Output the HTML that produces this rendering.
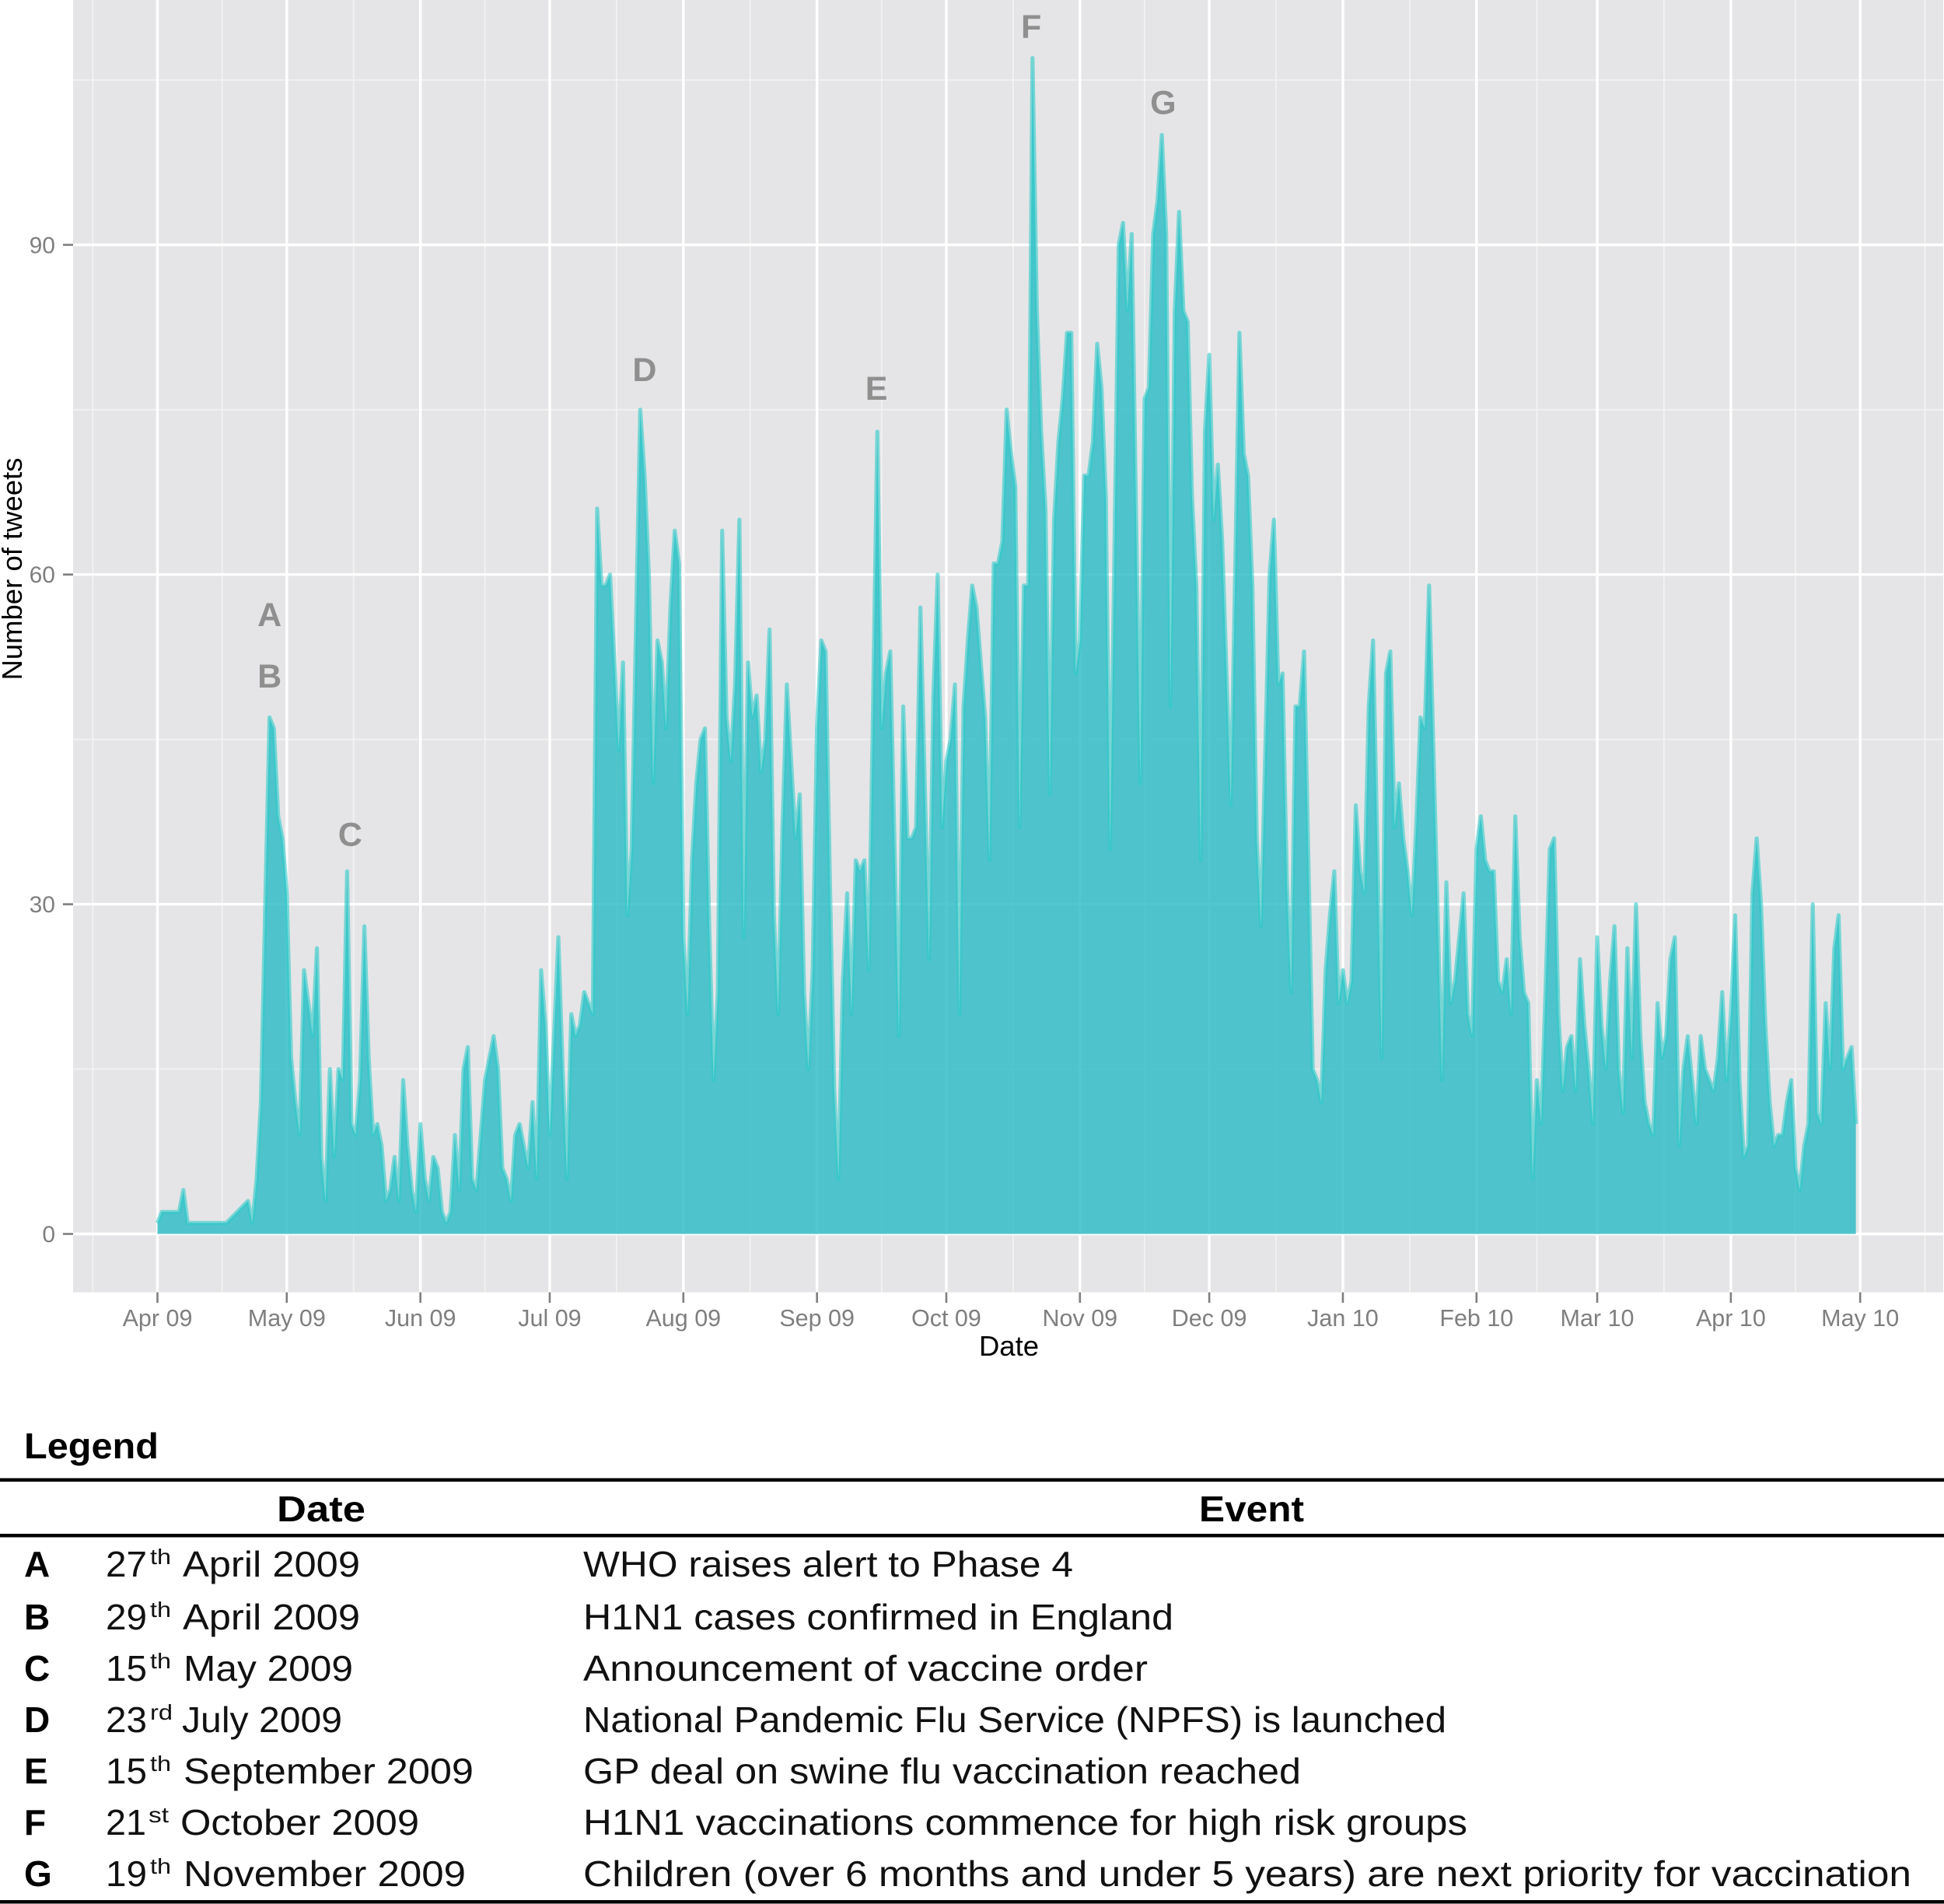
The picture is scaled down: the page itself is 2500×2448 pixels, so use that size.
<!DOCTYPE html>
<html lang="en">
<head>
<meta charset="utf-8">
<title>Number of tweets per day with event legend</title>
<style>
html,body{margin:0;padding:0;background:#fff;}
svg{display:block;}
text{font-family:"Liberation Sans",Arial,sans-serif;}
.rowtext{font-size:46px;fill:#111;}
.rowsup{font-size:28px;fill:#111;}
.rowbold{font-size:46px;font-weight:bold;fill:#000;}
</style>
</head>
<body>
<svg id="chart" xmlns="http://www.w3.org/2000/svg" width="2500" height="2448" viewBox="0 0 2500 2448">
  <rect x="94" y="0" width="2405" height="1661.5" fill="#e5e5e7"/>
  <g id="grid"></g>
  <g id="marks"></g>
  <g id="axes"></g>
  <g id="notes"></g>
  <text x="1297.5" y="1743" font-size="36.5" text-anchor="middle" fill="#000">Date</text>
  <text transform="translate(28,731.5) rotate(-90)" font-size="36.5" text-anchor="middle" fill="#000">Number of tweets</text>

  <g>
    <text class="rowbold" x="31" y="1875" textLength="173" lengthAdjust="spacingAndGlyphs">Legend</text>
    <rect x="0" y="1900.5" width="2500" height="4.5" fill="#000"/>
    <text class="rowbold" x="356" y="1956" textLength="114" lengthAdjust="spacingAndGlyphs">Date</text>
    <text class="rowbold" x="1542" y="1956" textLength="135" lengthAdjust="spacingAndGlyphs">Event</text>
    <rect x="0" y="1972" width="2500" height="4.5" fill="#000"/>

    <g>
      <text class="rowbold" x="31" y="2027">A</text>
      <text class="rowtext" x="136" y="2027" textLength="53" lengthAdjust="spacingAndGlyphs">27</text>
      <text class="rowsup" x="193" y="2011" textLength="27" lengthAdjust="spacingAndGlyphs">th</text>
      <text class="rowtext" x="235" y="2027" textLength="228" lengthAdjust="spacingAndGlyphs">April 2009</text>
      <text class="rowtext" x="750" y="2027" textLength="630" lengthAdjust="spacingAndGlyphs">WHO raises alert to Phase 4</text>
    </g>
    <g>
      <text class="rowbold" x="31" y="2095">B</text>
      <text class="rowtext" x="136" y="2095" textLength="53" lengthAdjust="spacingAndGlyphs">29</text>
      <text class="rowsup" x="193" y="2079" textLength="27" lengthAdjust="spacingAndGlyphs">th</text>
      <text class="rowtext" x="235" y="2095" textLength="228" lengthAdjust="spacingAndGlyphs">April 2009</text>
      <text class="rowtext" x="750" y="2095" textLength="759" lengthAdjust="spacingAndGlyphs">H1N1 cases confirmed in England</text>
    </g>
    <g>
      <text class="rowbold" x="31" y="2161">C</text>
      <text class="rowtext" x="136" y="2161" textLength="53" lengthAdjust="spacingAndGlyphs">15</text>
      <text class="rowsup" x="193" y="2145" textLength="27" lengthAdjust="spacingAndGlyphs">th</text>
      <text class="rowtext" x="236" y="2161" textLength="218" lengthAdjust="spacingAndGlyphs">May 2009</text>
      <text class="rowtext" x="750" y="2161" textLength="726" lengthAdjust="spacingAndGlyphs">Announcement of vaccine order</text>
    </g>
    <g>
      <text class="rowbold" x="31" y="2227">D</text>
      <text class="rowtext" x="136" y="2227" textLength="53" lengthAdjust="spacingAndGlyphs">23</text>
      <text class="rowsup" x="193" y="2211" textLength="29" lengthAdjust="spacingAndGlyphs">rd</text>
      <text class="rowtext" x="234" y="2227" textLength="206" lengthAdjust="spacingAndGlyphs">July 2009</text>
      <text class="rowtext" x="750" y="2227" textLength="1110" lengthAdjust="spacingAndGlyphs">National Pandemic Flu Service (NPFS) is launched</text>
    </g>
    <g>
      <text class="rowbold" x="31" y="2293">E</text>
      <text class="rowtext" x="136" y="2293" textLength="53" lengthAdjust="spacingAndGlyphs">15</text>
      <text class="rowsup" x="193" y="2277" textLength="27" lengthAdjust="spacingAndGlyphs">th</text>
      <text class="rowtext" x="236" y="2293" textLength="373" lengthAdjust="spacingAndGlyphs">September 2009</text>
      <text class="rowtext" x="750" y="2293" textLength="923" lengthAdjust="spacingAndGlyphs">GP deal on swine flu vaccination reached</text>
    </g>
    <g>
      <text class="rowbold" x="31" y="2359">F</text>
      <text class="rowtext" x="136" y="2359" textLength="52" lengthAdjust="spacingAndGlyphs">21</text>
      <text class="rowsup" x="191" y="2343" textLength="26" lengthAdjust="spacingAndGlyphs">st</text>
      <text class="rowtext" x="232" y="2359" textLength="307" lengthAdjust="spacingAndGlyphs">October 2009</text>
      <text class="rowtext" x="750" y="2359" textLength="1137" lengthAdjust="spacingAndGlyphs">H1N1 vaccinations commence for high risk groups</text>
    </g>
    <g>
      <text class="rowbold" x="31" y="2425">G</text>
      <text class="rowtext" x="136" y="2425" textLength="53" lengthAdjust="spacingAndGlyphs">19</text>
      <text class="rowsup" x="193" y="2409" textLength="27" lengthAdjust="spacingAndGlyphs">th</text>
      <text class="rowtext" x="236" y="2425" textLength="363" lengthAdjust="spacingAndGlyphs">November 2009</text>
      <text class="rowtext" x="750" y="2425" textLength="1708" lengthAdjust="spacingAndGlyphs">Children (over 6 months and under 5 years) are next priority for vaccination</text>
    </g>
    <rect x="0" y="2443" width="2500" height="4.5" fill="#000"/>
  </g>
</svg>
<script>
// Chart data
const monthLabels = ["Apr 09","May 09","Jun 09","Jul 09","Aug 09","Sep 09","Oct 09","Nov 09","Dec 09","Jan 10","Feb 10","Mar 10","Apr 10","May 10"];
const monthDays = [0,30,61,91,122,153,183,214,244,275,306,334,365,395];
const minorDays = [-15,15,45.5,76,106.5,137.5,168,198.5,229,259.5,290.5,320,349.5,380,410];
const yTicks = [0,30,60,90];
const yMinorTicks = [15,45,75,105];
const eventLetters = ["A","B","C","D","E","F","G"];
const eventLabelDays = [26,26,44.7,113,166.8,202.7,233.3];
const eventLabelLevels = [56.4,50.8,36.4,78.7,77,109.9,103];
// Tweets per day from 1 April 2009; null = no record for that day
const dailyTweets = [
1,2,2,2,2,2,4,1,1,1,1,1,1,1,1,1,1,null,null,null,
null,3,1,5,12,30,47,46,38,36,31,16,12,9,24,21,18,26,7,3,
15,7,15,14,33,10,9,14,28,16,9,10,8,3,4,7,3,14,8,4,
2,10,5,3,7,6,2,1,2,9,4,15,17,5,4,9,14,16,18,15,
6,5,3,9,10,8,6,12,5,24,19,9,18,27,15,5,20,18,19,22,
21,20,66,59,59,60,52,44,52,29,35,55,75,69,60,41,54,52,46,57,
64,61,27,20,34,41,45,46,28,14,22,64,47,43,50,65,27,52,47,49,
42,45,55,29,20,37,50,43,36,40,22,15,24,46,54,53,32,13,5,23,
31,20,34,33,34,24,48,73,46,51,53,35,18,48,36,36,37,57,41,25,
49,60,37,43,45,50,20,48,54,59,57,52,47,34,61,61,63,75,71,68,
37,59,59,107,84,73,66,40,65,72,76,82,82,51,54,69,69,72,81,77,
67,35,62,90,92,84,91,66,41,76,77,91,94,100,91,48,84,93,84,83,
67,59,34,73,80,65,70,63,51,39,60,82,71,69,59,36,28,44,60,65,
50,51,32,22,48,48,53,34,15,14,12,24,29,33,21,24,21,23,39,33,
31,48,54,35,16,51,53,37,41,36,33,29,37,47,46,59,44,29,14,32,
21,23,27,31,20,18,35,38,34,33,33,23,22,25,20,38,27,22,21,5,
14,10,22,35,36,20,13,17,18,13,25,19,15,10,27,19,15,23,28,15,
11,26,16,30,18,12,10,9,21,16,18,25,27,8,15,18,14,10,18,15,
14,13,16,22,14,20,29,14,7,8,31,36,30,19,12,8,9,9,12,14,
6,4,8,10,30,11,10,21,15,26,29,15,16,17,10
];

// Axis functions
function xScale(day){ return 202.5 + 5.5435 * day; }
function yScale(value){ return 1586.5 - 14.13 * value; }

const NS = "http://www.w3.org/2000/svg";
function make(tag, attrs, parent){
  const el = document.createElementNS(NS, tag);
  for (const k in attrs) el.setAttribute(k, attrs[k]);
  parent.appendChild(el);
  return el;
}
const grid = document.getElementById("grid");
const marks = document.getElementById("marks");
const axes = document.getElementById("axes");
const notes = document.getElementById("notes");
const PANEL_LEFT = 94, PANEL_RIGHT = 2499, PANEL_BOTTOM = 1661.5;

yMinorTicks.forEach(function(v){
  const l = make("line",{x1:PANEL_LEFT,x2:PANEL_RIGHT,y1:yScale(v),y2:yScale(v),stroke:"#f2f2f2","stroke-width":1.8},grid);
  
  
});
minorDays.forEach(function(d){
  const l = make("line",{x1:xScale(d),x2:xScale(d),y1:0,y2:PANEL_BOTTOM,stroke:"#f2f2f2","stroke-width":1.8},grid);
  
  
});
yTicks.forEach(function(v){
  const l = make("line",{x1:PANEL_LEFT,x2:PANEL_RIGHT,y1:yScale(v),y2:yScale(v),stroke:"#ffffff","stroke-width":3.4},grid);
  
  
});
monthDays.forEach(function(d){
  const l = make("line",{x1:xScale(d),x2:xScale(d),y1:0,y2:PANEL_BOTTOM,stroke:"#ffffff","stroke-width":3.4},grid);
  
  
});

// Series: area and outline drawn from dailyTweets
const pts = [];
dailyTweets.forEach(function(v, d){
  if (v !== null) pts.push([xScale(d), yScale(v)]);
});
const lineD = pts.map(function(p, i){ return (i ? "L" : "M") + p[0].toFixed(2) + " " + p[1].toFixed(2); }).join("");
const areaD = lineD + "L" + pts[pts.length-1][0].toFixed(2) + " " + yScale(0) + "L" + pts[0][0].toFixed(2) + " " + yScale(0) + "Z";
const area = make("path",{d:areaD,fill:"rgb(53,189,197)","fill-opacity":0.85},marks);


const outline = make("path",{d:lineD,fill:"none",stroke:"rgb(47,201,202)","stroke-opacity":0.6,"stroke-width":5.2,"stroke-linejoin":"round"},marks);



// Axes
yTicks.forEach(function(v, i){
  const t = make("line",{x1:81,x2:PANEL_LEFT,y1:yScale(v),y2:yScale(v),stroke:"#7f7f7f","stroke-width":2.6},axes);
  
  
  const lab = make("text",{x:71,y:yScale(v)+10.5,"text-anchor":"end","font-size":30,fill:"#7f7f7f"},axes);
  
  
  lab.textContent = String(yTicks[i]);
});
monthDays.forEach(function(d, i){
  const t = make("line",{x1:xScale(d),x2:xScale(d),y1:PANEL_BOTTOM,y2:1675,stroke:"#7f7f7f","stroke-width":2.6},axes);
  
  
  const lab = make("text",{x:xScale(d),y:1705,"text-anchor":"middle","font-size":30.5,fill:"#7f7f7f"},axes);
  
  
  lab.textContent = monthLabels[i];
});

// Event letters
eventLetters.forEach(function(letter, i){
  const t = make("text",{x:xScale(eventLabelDays[i]),y:yScale(eventLabelLevels[i])+15.5,"text-anchor":"middle","font-size":43,"font-weight":"bold",fill:"#8f8f8f"},notes);
  
  
  t.textContent = letter;
});
</script>
</body>
</html>
